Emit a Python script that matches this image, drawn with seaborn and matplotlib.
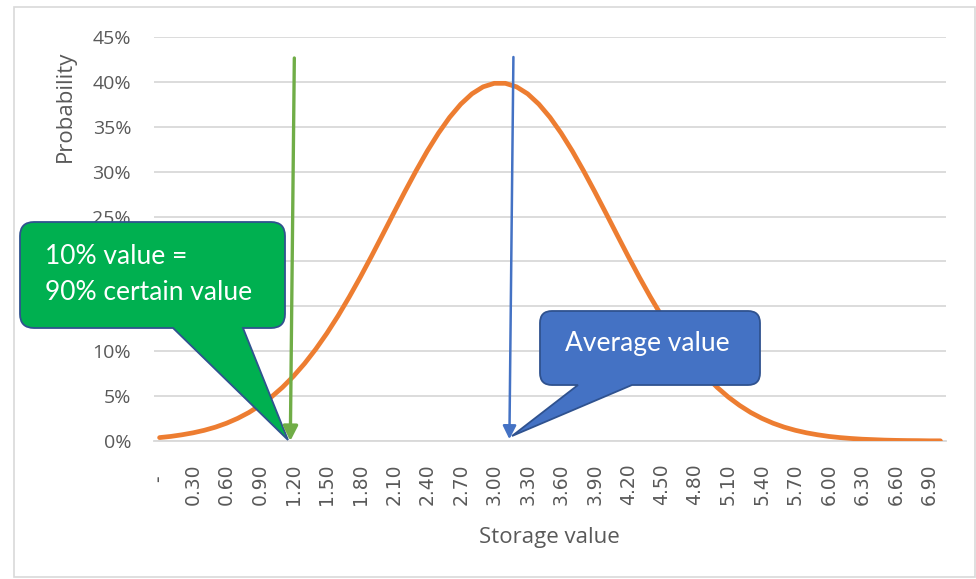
import matplotlib
matplotlib.use("Agg")
import matplotlib.pyplot as plt
import seaborn as sns
import pandas as pd
from matplotlib.path import Path
from matplotlib.patches import PathPatch, Rectangle
from matplotlib.transforms import Affine2D
from matplotlib.ticker import PercentFormatter

# categories: storage value 0.0 .. 7.0 in steps of 0.1, label every 3rd
storage_values = [round(i * 0.1, 1) for i in range(71)]
probability = [
    0.0038, 0.0051, 0.0069, 0.0091, 0.0119, 0.0154, 0.0198, 0.0252, 0.0317, 0.0396,
    0.0488, 0.0596, 0.0721, 0.0863, 0.1023, 0.1200, 0.1394, 0.1604, 0.1826, 0.2059,
    0.2299, 0.2541, 0.2780, 0.3011, 0.3230, 0.3429, 0.3605, 0.3752, 0.3867, 0.3945,
    0.3984, 0.3984, 0.3945, 0.3867, 0.3752, 0.3605, 0.3429, 0.3230, 0.3011, 0.2780,
    0.2541, 0.2299, 0.2059, 0.1826, 0.1604, 0.1394, 0.1200, 0.1023, 0.0863, 0.0721,
    0.0596, 0.0488, 0.0396, 0.0317, 0.0252, 0.0198, 0.0154, 0.0119, 0.0091, 0.0069,
    0.0051, 0.0038, 0.0028, 0.0020, 0.0015, 0.0010, 0.0007, 0.0005, 0.0004, 0.0002,
    0.0002,
]
tick_step = 3
y_ticks = [0, 0.05, 0.10, 0.15, 0.20, 0.25, 0.30, 0.35, 0.40, 0.45]
hidden_y_ticks = [0.15, 0.20]  # fully covered by the green callout

W, H, DPI = 976, 579, 100
GREY_TEXT = '#595959'
GRID = '#d9d9d9'

sns.set_theme(style='white')
plt.rcParams['font.family'] = ['Open Sans', 'DejaVu Sans']

fig = plt.figure(figsize=(W / DPI, H / DPI), dpi=DPI)
ax = fig.add_axes([154 / W, 1 - 441 / H, 792 / W, 404 / H])

# pixel coords measured from the top-left corner of the image
pix = Affine2D().scale(1, -1).translate(0, H).scale(1 / DPI) + fig.dpi_scale_trans

labels = ['-  ' if v == 0 else f'{v:.2f}' for v in storage_values]
df = pd.DataFrame({'Storage value': labels, 'Probability': probability})
sns.lineplot(data=df, x='Storage value', y='Probability', ax=ax, sort=False,
             color='#ed7d31', linewidth=3.4, zorder=3)
for line in ax.lines:
    line.set_solid_capstyle('round')

ax.set_xlim(-0.5, len(labels) - 0.5)
ax.set_ylim(0, 0.45)
ax.set_yticks(y_ticks)
ax.yaxis.set_major_formatter(PercentFormatter(1, decimals=0))
ax.grid(axis='y', color=GRID, linewidth=1.3)
ax.set_axisbelow(True)
sns.despine(ax=ax, left=True)
ax.spines['bottom'].set_color(GRID)
ax.spines['bottom'].set_linewidth(1.3)
ax.tick_params(length=0)
ax.tick_params(axis='y', pad=16.5, labelsize=14, labelcolor=GREY_TEXT)
for tick, val in zip(ax.yaxis.get_major_ticks(), y_ticks):
    if val in hidden_y_ticks:
        tick.label1.set_visible(False)
ax.set_xticks(range(0, len(labels), tick_step))
ax.set_xticklabels(labels[::tick_step], rotation=90, ha='right', va='center',
                   rotation_mode='anchor', family='DejaVu Sans', fontsize=13.5,
                   color=GREY_TEXT)
ax.tick_params(axis='x', pad=16)
ax.set_xlabel('')
ax.set_ylabel('')

fig.text(65 / W, 1 - 106 / H, 'Probability', rotation=90, ha='center', va='center',
         fontsize=16, color=GREY_TEXT)
fig.text(549 / W, 1 - 537 / H, 'Storage value', ha='center', va='center',
         fontsize=16, color=GREY_TEXT)


def callout(x0, y0, x1, y1, r, base_a, base_b, tip):
    verts = [(x0 + r, y0), (x1 - r, y0), (x1, y0), (x1, y0 + r), (x1, y1 - r),
             (x1, y1), (x1 - r, y1), (base_b, y1), tip, (base_a, y1), (x0 + r, y1),
             (x0, y1), (x0, y1 - r), (x0, y0 + r), (x0, y0), (x0 + r, y0), (x0 + r, y0)]
    codes = [Path.MOVETO, Path.LINETO, Path.CURVE3, Path.CURVE3, Path.LINETO,
             Path.CURVE3, Path.CURVE3, Path.LINETO, Path.LINETO, Path.LINETO, Path.LINETO,
             Path.CURVE3, Path.CURVE3, Path.LINETO, Path.CURVE3, Path.CURVE3, Path.CLOSEPOLY]
    return Path(verts, codes)


green_box = PathPatch(callout(20, 222, 285, 328, 14, 173, 243, (288, 440)),
                      transform=pix, facecolor='#00b050', edgecolor='#2f528f',
                      linewidth=1.3, zorder=5, clip_on=False)
blue_box = PathPatch(callout(540, 311, 760, 385, 12, 578, 632, (512, 436)),
                     transform=pix, facecolor='#4472c4', edgecolor='#2f528f',
                     linewidth=1.3, zorder=5, clip_on=False)
ax.add_patch(green_box)
ax.add_patch(blue_box)

box_font = dict(family=['Lato', 'DejaVu Sans'], fontsize=19, color='white', zorder=6,
                transform=pix, clip_on=False)
ax.text(45, 257, '10% value =', ha='left', va='center', **box_font)
ax.text(45, 292, '90% certain value', ha='left', va='center', **box_font)
ax.text(647, 343, 'Average value', ha='center', va='center', **box_font)

# marker arrows (category index units, probability)
ax.annotate('', xy=(11.72, 0.0), xytext=(12.08, 0.4266), zorder=7, annotation_clip=False,
            arrowprops=dict(arrowstyle='-|>', color='#70ad47', lw=2.4,
                            mutation_scale=22, shrinkA=0, shrinkB=0))
ax.annotate('', xy=(31.36, 0.002), xytext=(31.72, 0.4277), zorder=7, annotation_clip=False,
            arrowprops=dict(arrowstyle='-|>', color='#4472c4', lw=1.8,
                            mutation_scale=20, shrinkA=0, shrinkB=0))

fig.patches.append(Rectangle((14 / W, 1 - 577 / H), (975 - 14) / W, (577 - 7) / H,
                             transform=fig.transFigure, fill=False,
                             edgecolor=GRID, linewidth=1.2))

fig.savefig('out.png', dpi=DPI)
